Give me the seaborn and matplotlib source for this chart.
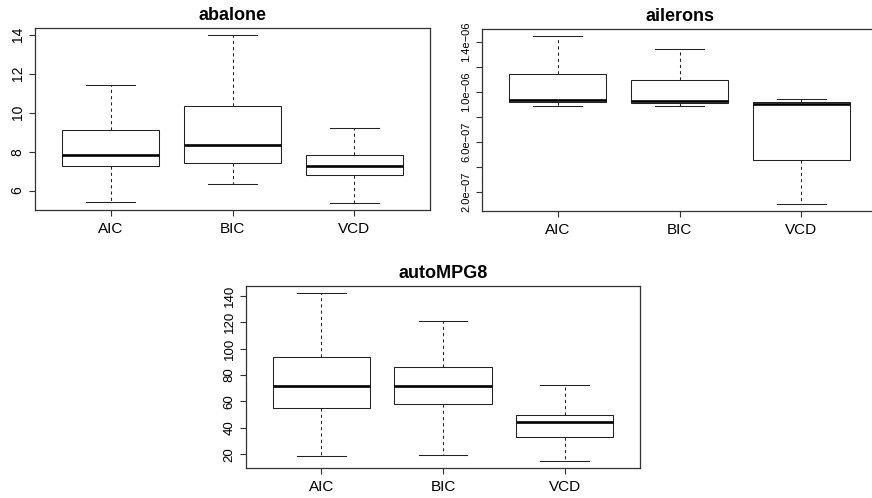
import numpy as np
import pandas as pd
import matplotlib
matplotlib.use("Agg")
import matplotlib.pyplot as plt
import seaborn as sns

# --- DATA (box stats: low whisker, Q1, median, Q3, high whisker) ---
methods = ['AIC', 'BIC', 'VCD']

abalone_aic = [5.40, 7.28, 7.83, 9.09, 11.44]
abalone_bic = [6.34, 7.40, 8.34, 10.32, 14.00]
abalone_vcd = [5.35, 6.82, 7.25, 7.81, 9.20]

ailerons_aic = [8.85e-7, 9.23e-7, 9.39e-7, 1.144e-6, 1.451e-6]
ailerons_bic = [8.91e-7, 9.15e-7, 9.31e-7, 1.096e-6, 1.347e-6]
ailerons_vcd = [1.01e-7, 4.59e-7, 9.04e-7, 9.23e-7, 9.41e-7]

autompg_aic = [18.5, 55.4, 71.5, 93.8, 142.3]
autompg_bic = [19.7, 58.2, 71.5, 85.9, 121.1]
autompg_vcd = [14.7, 33.4, 44.3, 49.8, 72.8]

abalone_ticks = [6, 8, 10, 12, 14]
ailerons_ticks = [2e-7, 4e-7, 6e-7, 8e-7, 1.0e-6, 1.2e-6, 1.4e-6]
ailerons_labeled = [2e-7, 6e-7, 1.0e-6, 1.4e-6]
autompg_ticks = [20, 40, 60, 80, 100, 120, 140]

plt.rcParams['font.family'] = ['Liberation Sans', 'DejaVu Sans']

LINE = '#222222'


def to_long(aic, bic, vcd):
    rows = []
    for m, vals in zip(methods, [aic, bic, vcd]):
        for v in vals:
            rows.append({'method': m, 'value': v})
    return pd.DataFrame(rows)


def r_boxplot(ax, df, title, ticks, labels, ysize):
    # whis=(0, 100) -> whiskers at min / max, like R's range
    sns.boxplot(data=df, x='method', y='value', order=methods, ax=ax,
                color='white', linecolor=LINE, linewidth=0.75, width=0.8,
                whis=(0, 100),
                medianprops={'linewidth': 1.9, 'color': 'black'},
                whiskerprops={'linestyle': (0, (3, 3))})
    lo, hi = df['value'].min(), df['value'].max()
    pad = 0.04 * (hi - lo)
    ax.set_ylim(lo - pad, hi + pad)
    ax.set_xlim(-0.62, 2.62)
    ax.set_yticks(ticks)
    ax.set_yticklabels(labels)
    ax.set_xlabel('')
    ax.set_ylabel('')
    ax.set_title(title, fontweight='bold', fontsize=13, pad=6)
    for s in ax.spines.values():
        s.set_color('#333333')
        s.set_linewidth(0.9)
    ax.tick_params(axis='both', direction='out', length=4.5, width=0.8, color='#333333')
    ax.tick_params(axis='x', labelsize=11, pad=4)
    ax.tick_params(axis='y', labelsize=ysize, labelrotation=90, pad=3)
    for lab in ax.get_yticklabels():
        lab.set_va('center')


fig = plt.figure(figsize=(8.72, 4.98), dpi=100)
W, H = 872, 498
ax1 = fig.add_axes([35 / W, 1 - 210 / H, 395 / W, 182 / H])
ax2 = fig.add_axes([482 / W, 1 - 211 / H, 395 / W, 182 / H])
ax3 = fig.add_axes([246 / W, 1 - 468 / H, 394 / W, 182 / H])

r_boxplot(ax1, to_long(abalone_aic, abalone_bic, abalone_vcd), 'abalone',
          abalone_ticks, [str(t) for t in abalone_ticks], 10)

ail_labels = [f"{t:.1e}".replace('-', '\u2212') if t in ailerons_labeled else ''
              for t in ailerons_ticks]
r_boxplot(ax2, to_long(ailerons_aic, ailerons_bic, ailerons_vcd), 'ailerons',
          ailerons_ticks, ail_labels, 8)

r_boxplot(ax3, to_long(autompg_aic, autompg_bic, autompg_vcd), 'autoMPG8',
          autompg_ticks, [str(t) for t in autompg_ticks], 9.5)

fig.savefig('out.png', dpi=100)
